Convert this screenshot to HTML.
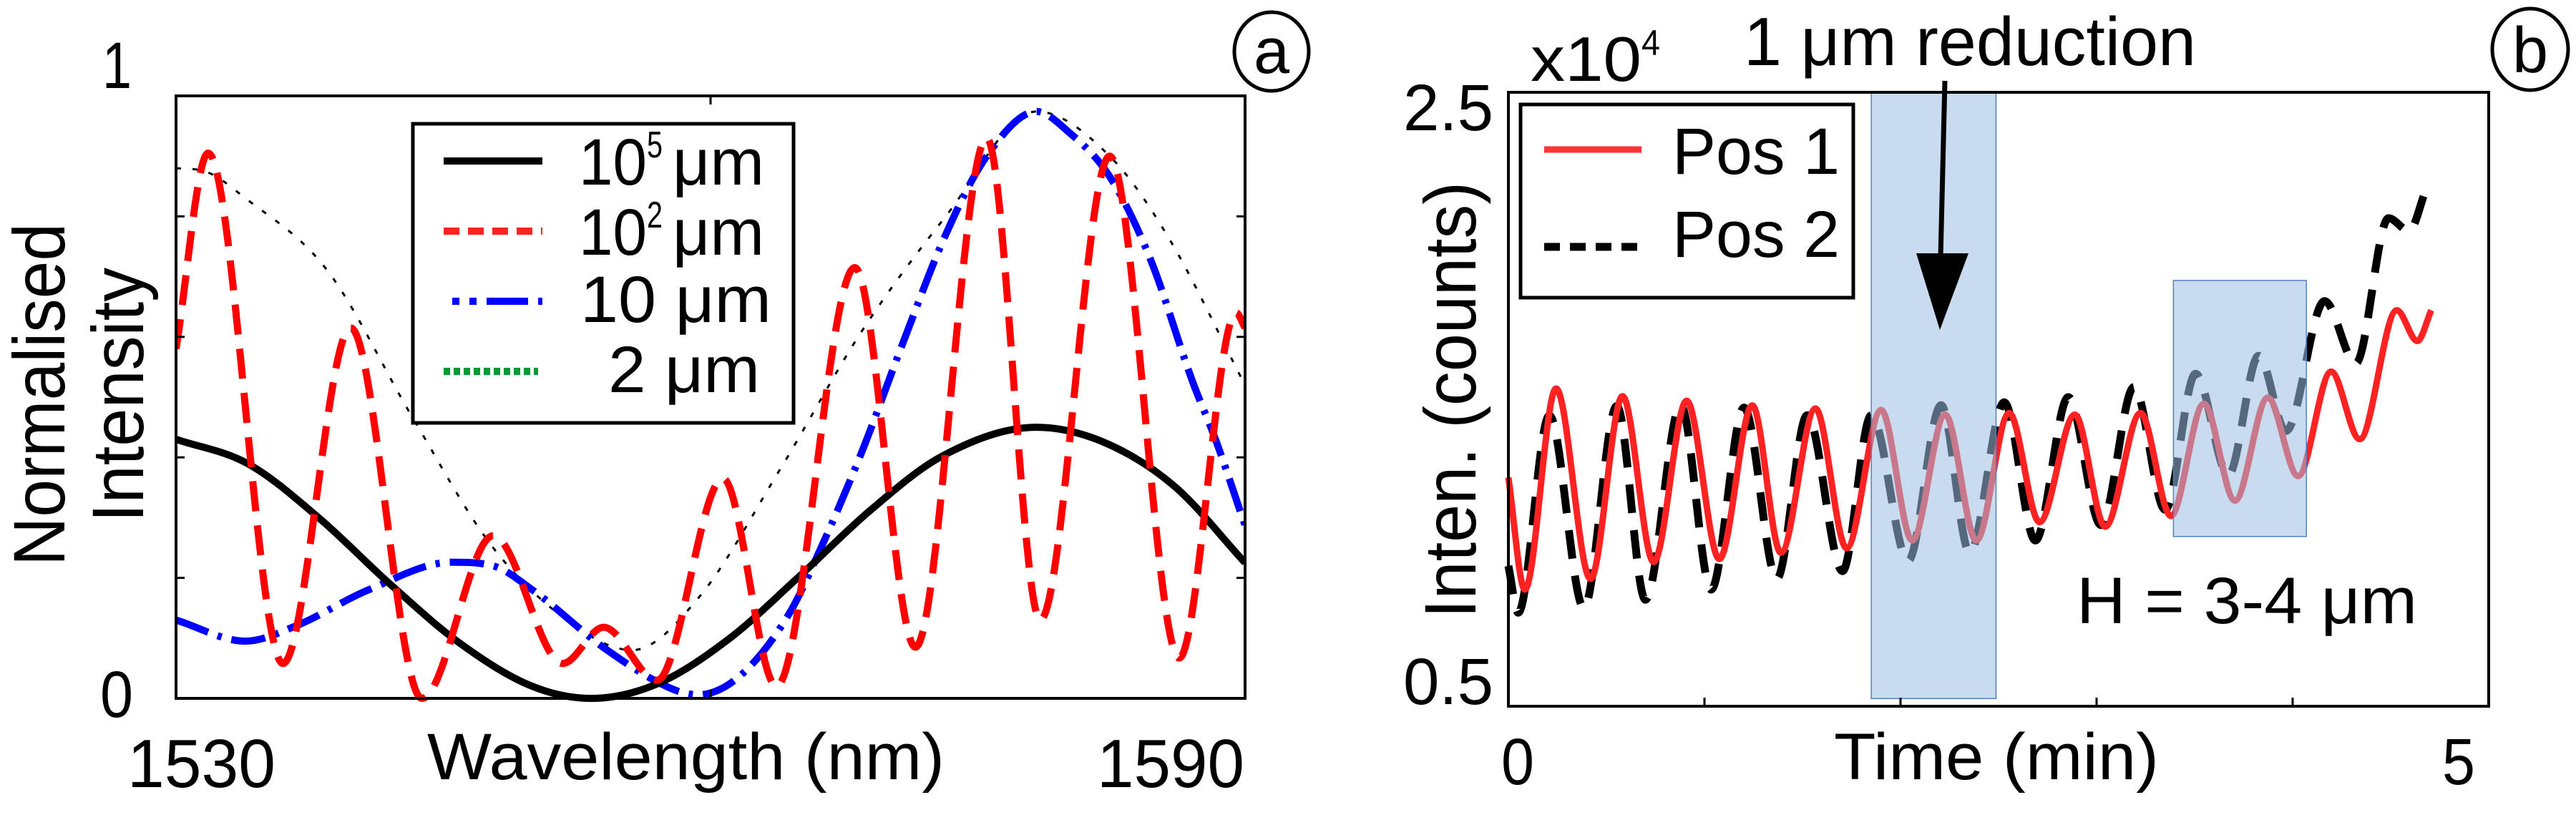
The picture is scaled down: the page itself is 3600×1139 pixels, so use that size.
<!DOCTYPE html>
<html><head><meta charset="utf-8"><style>
html,body{margin:0;padding:0;background:#fff;}
svg{display:block;font-family:"Liberation Sans",sans-serif;}
</style></head><body>
<svg id="fig" width="3600" height="1139" viewBox="0 0 3600 1139" xmlns="http://www.w3.org/2000/svg">
<g id="pa"></g>
<g id="pb"></g>
<!-- Panel a static text -->
<text x="143" y="123" font-size="92" textLength="41" lengthAdjust="spacingAndGlyphs">1</text>
<text x="140" y="1002" font-size="92" textLength="46" lengthAdjust="spacingAndGlyphs">0</text>
<text x="178" y="1100" font-size="96" textLength="207" lengthAdjust="spacingAndGlyphs">1530</text>
<text x="1533" y="1100" font-size="96" textLength="206" lengthAdjust="spacingAndGlyphs">1590</text>
<text x="597" y="1089" font-size="92" textLength="723" lengthAdjust="spacingAndGlyphs">Wavelength (nm)</text>
<text transform="translate(90,791) rotate(-90)" font-size="102" textLength="479" lengthAdjust="spacingAndGlyphs">Normalised</text>
<text transform="translate(200,730) rotate(-90)" font-size="102" textLength="356" lengthAdjust="spacingAndGlyphs">Intensity</text>
<g>
<rect x="577" y="173" width="532" height="418" fill="#fff" stroke="#000" stroke-width="5"/>
<line x1="620" y1="225" x2="758" y2="225" stroke="#000" stroke-width="10"/>
<line x1="620" y1="323" x2="758" y2="323" stroke="#f22" stroke-width="10" stroke-dasharray="22 12"/>
<line x1="632" y1="421" x2="758" y2="421" stroke="#00f" stroke-width="10" stroke-dasharray="10 14 10 14 48 0"/>
<line x1="620" y1="519" x2="752" y2="519" stroke="#093" stroke-width="10" stroke-dasharray="9 5"/>
<text x="809" y="258" font-size="92"><tspan textLength="95" lengthAdjust="spacingAndGlyphs">10</tspan><tspan font-size="52" dy="-38" textLength="22" lengthAdjust="spacingAndGlyphs">5</tspan><tspan dy="38" dx="14" textLength="128" lengthAdjust="spacingAndGlyphs">μm</tspan></text>
<text x="809" y="356" font-size="92"><tspan textLength="95" lengthAdjust="spacingAndGlyphs">10</tspan><tspan font-size="52" dy="-38" textLength="22" lengthAdjust="spacingAndGlyphs">2</tspan><tspan dy="38" dx="14" textLength="128" lengthAdjust="spacingAndGlyphs">μm</tspan></text>
<text x="811" y="450" font-size="92" textLength="267" lengthAdjust="spacingAndGlyphs">10 μm</text>
<text x="850" y="548" font-size="92" textLength="212" lengthAdjust="spacingAndGlyphs">2 μm</text>
</g>
<ellipse cx="1777" cy="72" rx="52" ry="55" fill="none" stroke="#000" stroke-width="5"/>
<text x="1777" y="102" font-size="90" text-anchor="middle">a</text>
<!-- Panel b static text -->
<text x="1961" y="182" font-size="92" textLength="126" lengthAdjust="spacingAndGlyphs">2.5</text>
<text x="1961" y="984" font-size="92" textLength="126" lengthAdjust="spacingAndGlyphs">0.5</text>
<text x="2098" y="1096" font-size="92" textLength="46" lengthAdjust="spacingAndGlyphs">0</text>
<text x="3413" y="1096" font-size="92" textLength="46" lengthAdjust="spacingAndGlyphs">5</text>
<text x="2563" y="1089" font-size="92" textLength="454" lengthAdjust="spacingAndGlyphs">Time (min)</text>
<text transform="translate(2062,864) rotate(-90)" font-size="102" textLength="610" lengthAdjust="spacingAndGlyphs">Inten.  (counts)</text>
<text x="2139" y="113" font-size="88"><tspan textLength="155" lengthAdjust="spacingAndGlyphs">x10</tspan><tspan font-size="50" dy="-36" textLength="26" lengthAdjust="spacingAndGlyphs">4</tspan></text>
<text x="2437" y="91" font-size="96" textLength="632" lengthAdjust="spacingAndGlyphs">1 μm reduction</text>
<text x="2902" y="871" font-size="92" textLength="476" lengthAdjust="spacingAndGlyphs">H = 3-4 μm</text>
<ellipse cx="3536" cy="69" rx="53" ry="57" fill="none" stroke="#000" stroke-width="5"/>
<text x="3536" y="101" font-size="90" text-anchor="middle">b</text>
</svg>
<script>
// ---- Panel a data (wavelength nm, normalised intensity) ----
const wlBlack = [1530,1534,1538,1542,1546,1550,1553.3,1557,1561,1565,1569,1573,1578.3,1582,1586,1590];
const valBlack = [0.43,0.39,0.30,0.19,0.09,0.02,0.0,0.024,0.098,0.203,0.313,0.402,0.45,0.426,0.353,0.225];
const wlBlue = [1530,1533.9,1536.7,1540.8,1545.5,1547.8,1550,1554.2,1557.9,1559.3,1561.6,1564.4,1566.2,1568.5,1570.8,1573.2,1575.5,1578.3,1580.1,1582.4,1584.7,1587,1588.4,1590];
const valBlue = [0.13,0.095,0.12,0.18,0.226,0.22,0.18,0.08,0.015,0.006,0.036,0.14,0.25,0.41,0.59,0.77,0.90,0.974,0.94,0.866,0.728,0.53,0.425,0.287];
const wlDot = [1530,1531.6,1533.9,1538.5,1543.2,1547.8,1552.4,1555.6,1559.3,1563.9,1568.5,1573.2,1578.3,1582.4,1585.6,1590];
const valDot = [0.88,0.875,0.83,0.71,0.47,0.25,0.12,0.08,0.166,0.38,0.61,0.80,0.974,0.9,0.77,0.52];
const wlRed = [1530,1531.8,1536,1539.8,1543.8,1547.8,1551.7,1554,1557,1560.7,1563.7,1568.1,1571.5,1575.5,1578.5,1582.4,1586.3,1589.5,1590];
const valRed = [0.58,0.905,0.058,0.615,0.0,0.27,0.058,0.118,0.03,0.365,0.02,0.715,0.085,0.93,0.13,0.9,0.067,0.64,0.615];
const xTicksA = [1530,1560,1590];
const yTicksA = [0,0.2,0.4,0.6,0.8,1];
// ---- Panel b data (time min, intensity x1e4) ----
const tPos1 = [0,0.084,0.243,0.419,0.582,0.741,0.909,1.076,1.244,1.39,1.566,1.725,1.901,2.06,2.228,2.387,2.554,2.709,2.889,3.044,3.224,3.379,3.547,3.706,3.873,4.028,4.196,4.342,4.531,4.636,4.707];
const vPos1 = [1.245,0.88,1.535,0.915,1.51,0.97,1.495,0.98,1.48,1.0,1.47,1.015,1.465,1.04,1.45,1.04,1.455,1.10,1.45,1.085,1.455,1.12,1.485,1.17,1.505,1.25,1.59,1.37,1.79,1.69,1.79];
const tPos2 = [0,0.05,0.209,0.385,0.553,0.699,0.879,1.034,1.202,1.369,1.524,1.704,1.851,2.039,2.207,2.353,2.529,2.688,2.856,3.023,3.191,3.35,3.505,3.672,3.827,3.966,4.163,4.322,4.489,4.594,4.678];
const vPos2 = [0.957,0.805,1.447,0.82,1.478,0.847,1.481,0.88,1.473,0.915,1.448,0.94,1.448,0.974,1.481,1.0,1.49,1.04,1.507,1.09,1.54,1.14,1.583,1.253,1.642,1.397,1.82,1.617,2.09,2.048,2.18];
const shadeT0 = [1.851,3.392];
const shadeT1 = [2.487,4.07];
const shadeV0 = [0.525,1.053];
const shadeV1 = [2.5,1.887];
const xTicksB = [0,1,2,3,4,5];

const NS='http://www.w3.org/2000/svg';
function mk(parent,tag,attrs){const e=document.createElementNS(NS,tag);for(const k in attrs)e.setAttribute(k,attrs[k]);parent.appendChild(e);return e;}
function monoPath(px,py){
  const n=px.length,d=[],m=new Array(n);
  for(let i=0;i<n-1;i++)d.push((py[i+1]-py[i])/(px[i+1]-px[i]));
  m[0]=d[0];m[n-1]=d[n-2];
  for(let i=1;i<n-1;i++){m[i]=(d[i-1]*d[i]<=0)?0:(d[i-1]+d[i])/2;}
  for(let i=0;i<n-1;i++){if(d[i]===0){m[i]=0;m[i+1]=0;continue;}
    const a=m[i]/d[i],b=m[i+1]/d[i],s=a*a+b*b;if(s>9){const t=3/Math.sqrt(s);m[i]=t*a*d[i];m[i+1]=t*b*d[i];}}
  let p='M'+px[0].toFixed(1)+','+py[0].toFixed(1);
  for(let i=0;i<n-1;i++){const h=(px[i+1]-px[i])/3;
    p+=' C'+(px[i]+h).toFixed(1)+','+(py[i]+m[i]*h).toFixed(1)+' '+(px[i+1]-h).toFixed(1)+','+(py[i+1]-m[i+1]*h).toFixed(1)+' '+px[i+1].toFixed(1)+','+py[i+1].toFixed(1);}
  return p;
}
// Panel a axes
const A={l:246,r:1740,t:134,b:976};
const ax=v=>A.l+(v-1530)/60*(A.r-A.l);
const ay=v=>A.b-v*(A.b-A.t);
const pa=document.getElementById('pa');
const clipA=mk(pa,'clipPath',{id:'ca'});mk(clipA,'rect',{x:A.l,y:A.t-10,width:A.r-A.l,height:A.b-A.t+20});
const gA=mk(pa,'g',{'clip-path':'url(#ca)'});
const cDot=mk(gA,'path',{d:monoPath(wlDot.map(ax),valDot.map(ay)),fill:'none',stroke:'#000','stroke-width':3,'stroke-dasharray':'7 16'});


const cBlue=mk(gA,'path',{d:monoPath(wlBlue.map(ax),valBlue.map(ay)),fill:'none',stroke:'#00f','stroke-width':10,'stroke-dasharray':'48 14 6 14'});


const cBlack=mk(gA,'path',{d:monoPath(wlBlack.map(ax),valBlack.map(ay)),fill:'none',stroke:'#000','stroke-width':10});


const cRed=mk(gA,'path',{d:monoPath(wlRed.map(ax),valRed.map(ay)),fill:'none',stroke:'#f00','stroke-width':10,'stroke-dasharray':'42 20'});


const frA=mk(pa,'rect',{x:A.l,y:A.t,width:A.r-A.l,height:A.b-A.t,fill:'none',stroke:'#000','stroke-width':4});


xTicksA.forEach(v=>{const x=ax(v);
  const t1=mk(pa,'line',{x1:x,y1:A.b,x2:x,y2:A.b-12,stroke:'#000','stroke-width':3});
  
  
  const t2=mk(pa,'line',{x1:x,y1:A.t,x2:x,y2:A.t+12,stroke:'#000','stroke-width':3});
  
  });
yTicksA.forEach(v=>{const y=ay(v);
  const t1=mk(pa,'line',{x1:A.l,y1:y,x2:A.l+12,y2:y,stroke:'#000','stroke-width':3});
  
  
  const t2=mk(pa,'line',{x1:A.r,y1:y,x2:A.r-12,y2:y,stroke:'#000','stroke-width':3});
  
  });
// Panel b
const B={l:2108,r:3478,t:129,b:987};
const bx=v=>B.l+v/5*(B.r-B.l);
const by=v=>B.b-(v-0.5)/2*(B.b-B.t);
const pb=document.getElementById('pb');
const c2=mk(pb,'path',{d:monoPath(tPos2.map(bx),vPos2.map(by)),fill:'none',stroke:'#000','stroke-width':11,'stroke-dasharray':'40 24'});


const c1=mk(pb,'path',{d:monoPath(tPos1.map(bx),vPos1.map(by)),fill:'none',stroke:'#f22','stroke-width':9});


shadeT0.forEach((t,i)=>{
  const r=mk(pb,'rect',{x:bx(t),y:by(shadeV1[i]),width:bx(shadeT1[i])-bx(t),height:by(shadeV0[i])-by(shadeV1[i]),fill:'#9dbde0','fill-opacity':0.55,stroke:'#4f7fc8','stroke-width':1.5});
  
  
});
const frB=mk(pb,'rect',{x:B.l,y:B.t,width:B.r-B.l,height:B.b-B.t,fill:'none',stroke:'#000','stroke-width':4});


xTicksB.forEach(v=>{const x=bx(v);
  const t=mk(pb,'line',{x1:x,y1:B.b,x2:x,y2:B.b-12,stroke:'#000','stroke-width':3});
  
  });
const lg=mk(pb,'g',{});


const lbox=mk(lg,'rect',{x:2125,y:146,width:465,height:270,fill:'#fff',stroke:'#000','stroke-width':5});


const s1=mk(lg,'line',{x1:2158,y1:209,x2:2294,y2:209,stroke:'#f33','stroke-width':9});


const s2=mk(lg,'line',{x1:2158,y1:345,x2:2294,y2:345,stroke:'#000','stroke-width':11,'stroke-dasharray':'22 14'});


const l1=mk(lg,'text',{x:2337,y:243,'font-size':92,textLength:234,lengthAdjust:'spacingAndGlyphs'});l1.textContent='Pos 1';


const l2=mk(lg,'text',{x:2337,y:359,'font-size':92,textLength:234,lengthAdjust:'spacingAndGlyphs'});l2.textContent='Pos 2';


const arr=mk(pb,'g',{});


mk(arr,'line',{x1:2718,y1:113,x2:2712,y2:360,stroke:'#000','stroke-width':7});
mk(arr,'polygon',{points:'2678,354 2751,354 2711,461',fill:'#000'});
</script>
</body></html>
